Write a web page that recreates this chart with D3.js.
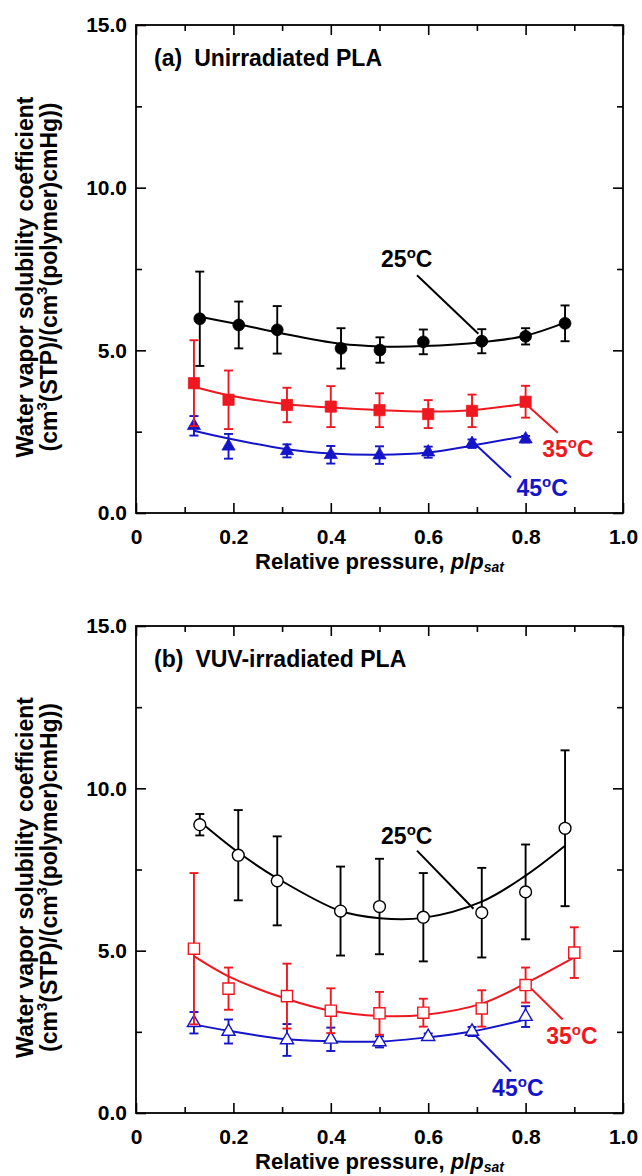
<!DOCTYPE html>
<html>
<head>
<meta charset="utf-8">
<script src="https://cdn.jsdelivr.net/npm/d3@7/dist/d3.min.js"></script>
<style>
  body { margin: 0; background: #fff; }
  svg text { font-family: "Liberation Sans", Arial, sans-serif; font-weight: bold; fill: #000; }
</style>
</head>
<body>
<div id="chart"></div>
<script>
// axis ticks
const xMajor = [0, 0.2, 0.4, 0.6, 0.8, 1.0];
const xMajorLabels = ['0', '0.2', '0.4', '0.6', '0.8', '1.0'];
const xMinor = [0.1, 0.3, 0.5, 0.7, 0.9];
const yMajor = [0, 5, 10, 15];
const yMajorLabels = ['0.0', '5.0', '10.0', '15.0'];
const yMinor = [2.5, 7.5, 12.5];

// (a) unirradiated PLA
const a25x = [0.131, 0.211, 0.29, 0.421, 0.501, 0.59, 0.71, 0.80, 0.881];
const a25y = [5.97, 5.78, 5.63, 5.06, 5.01, 5.26, 5.28, 5.43, 5.83];
const a25err = [1.45, 0.72, 0.73, 0.62, 0.39, 0.38, 0.37, 0.25, 0.55];
const a25fit = [6.03, 5.80, 5.55, 5.20, 5.12, 5.13, 5.25, 5.45, 5.85];

const a35x = [0.119, 0.19, 0.31, 0.40, 0.50, 0.60, 0.69, 0.80];
const a35y = [3.99, 3.48, 3.32, 3.27, 3.16, 3.04, 3.14, 3.42];
const a35err = [1.32, 0.90, 0.53, 0.63, 0.52, 0.43, 0.50, 0.49];
const a35fit = [3.88, 3.62, 3.34, 3.24, 3.16, 3.12, 3.16, 3.36];

const a45x = [0.119, 0.19, 0.31, 0.40, 0.50, 0.60, 0.69, 0.80];
const a45y = [2.68, 2.05, 1.91, 1.79, 1.78, 1.87, 2.13, 2.27];
const a45err = [0.30, 0.38, 0.20, 0.27, 0.27, 0.17, 0.13, 0.10];
const a45fit = [2.53, 2.29, 1.96, 1.83, 1.79, 1.86, 2.07, 2.37];

// (b) VUV-irradiated PLA
const b25x = [0.131, 0.21, 0.29, 0.42, 0.50, 0.59, 0.71, 0.80, 0.881];
const b25y = [8.88, 7.94, 7.15, 6.22, 6.36, 6.03, 6.17, 6.81, 8.77];
const b25err = [0.33, 1.39, 1.37, 1.37, 1.47, 1.36, 1.38, 1.46, 2.40];
const b25fit = [8.98, 8.03, 7.23, 6.22, 6.00, 6.01, 6.51, 7.31, 8.23];

const b35x = [0.119, 0.19, 0.31, 0.40, 0.50, 0.59, 0.71, 0.80, 0.90];
const b35y = [5.06, 3.83, 3.60, 3.15, 3.07, 3.09, 3.22, 3.94, 4.94];
const b35err = [2.33, 0.65, 1.00, 0.69, 0.66, 0.43, 0.56, 0.54, 0.78];
const b35fit = [4.83, 4.21, 3.51, 3.15, 2.99, 3.02, 3.37, 3.99, 4.79];

const b45x = [0.119, 0.19, 0.31, 0.40, 0.50, 0.60, 0.69, 0.80];
const b45y = [2.78, 2.51, 2.25, 2.27, 2.19, 2.35, 2.51, 2.97];
const b45err = [0.33, 0.37, 0.49, 0.36, 0.17, 0.10, 0.14, 0.32];
const b45fit = [2.73, 2.53, 2.27, 2.21, 2.20, 2.33, 2.51, 2.88];

const BLACK = '#000000', RED = '#f01820', BLUE = '#1414c8';

const panels = [
  {
    title: '(a)', name: 'Unirradiated PLA', top: 25, bottom: 513, open: false,
    series: [
      { x: a45x, y: a45y, err: a45err, fit: a45fit, color: BLUE, shape: 'triangle', label: '45',
        lead: [[0.70, 2.07], [0.77, 1.09]], at: [0.834, 0.53] },
      { x: a35x, y: a35y, err: a35err, fit: a35fit, color: RED, shape: 'square', label: '35',
        lead: [[0.80, 3.36], [0.866, 2.47]], at: [0.887, 1.71] },
      { x: a25x, y: a25y, err: a25err, fit: a25fit, color: BLACK, shape: 'circle', label: '25',
        lead: [[0.577, 7.31], [0.703, 5.51]], at: [0.556, 7.55] },
    ],
  },
  {
    title: '(b)', name: 'VUV-irradiated PLA', top: 626, bottom: 1113, open: true,
    series: [
      { x: b45x, y: b45y, err: b45err, fit: b45fit, color: BLUE, shape: 'triangle', label: '45',
        lead: [[0.693, 2.45], [0.77, 1.28]], at: [0.784, 0.51] },
      { x: b35x, y: b35y, err: b35err, fit: b35fit, color: RED, shape: 'square', label: '35',
        lead: [[0.809, 3.87], [0.876, 2.88]], at: [0.895, 2.13] },
      { x: b25x, y: b25y, err: b25err, fit: b25fit, color: BLACK, shape: 'circle', label: '25',
        lead: [[0.577, 8.08], [0.693, 6.29]], at: [0.556, 8.3] },
    ],
  },
];

const width = 642, height = 1176;
const left = 136, right = 623;

const svg = d3.select('#chart').append('svg')
  .attr('width', width)
  .attr('height', height);

const xScale = d3.scaleLinear().domain([0, 1]).range([left, right]);

function drawPanel(p) {
  const yScale = d3.scaleLinear().domain([0, 15]).range([p.bottom, p.top]);
  const g = svg.append('g');

  // axes with inward ticks on all four sides
  const styleAxis = sel => {
    sel.select('.domain').remove();
    sel.selectAll('.tick line').attr('stroke', '#000').attr('stroke-width', 1.6);
    sel.selectAll('.tick text').style('font-size', '21px');
  };
  g.append('g').attr('transform', `translate(0,${p.bottom})`)
    .call(d3.axisBottom(xScale).tickValues(xMajor).tickSize(-10).tickPadding(16)
      .tickFormat((d, i) => xMajorLabels[i]))
    .call(styleAxis);
  g.append('g').attr('transform', `translate(0,${p.bottom})`)
    .call(d3.axisBottom(xScale).tickValues(xMinor).tickSize(-6).tickFormat(''))
    .call(styleAxis);
  g.append('g').attr('transform', `translate(0,${p.top})`)
    .call(d3.axisTop(xScale).tickValues(xMajor).tickSize(-10).tickFormat(''))
    .call(styleAxis);
  g.append('g').attr('transform', `translate(0,${p.top})`)
    .call(d3.axisTop(xScale).tickValues(xMinor).tickSize(-6).tickFormat(''))
    .call(styleAxis);
  g.append('g').attr('transform', `translate(${left},0)`)
    .call(d3.axisLeft(yScale).tickValues(yMajor).tickSize(-10).tickPadding(9)
      .tickFormat((d, i) => yMajorLabels[i]))
    .call(styleAxis);
  g.append('g').attr('transform', `translate(${left},0)`)
    .call(d3.axisLeft(yScale).tickValues(yMinor).tickSize(-6).tickFormat(''))
    .call(styleAxis);
  g.append('g').attr('transform', `translate(${right},0)`)
    .call(d3.axisRight(yScale).tickValues(yMajor).tickSize(-10).tickFormat(''))
    .call(styleAxis);
  g.append('g').attr('transform', `translate(${right},0)`)
    .call(d3.axisRight(yScale).tickValues(yMinor).tickSize(-6).tickFormat(''))
    .call(styleAxis);

  g.append('rect')
    .attr('x', left).attr('y', p.top)
    .attr('width', right - left).attr('height', p.bottom - p.top)
    .attr('fill', 'none').attr('stroke', '#000').attr('stroke-width', 1.8);

  // panel title
  const t = g.append('text')
    .attr('x', 154).attr('y', p.top + 41)
    .style('font-size', '23px');
  t.append('tspan').text(p.title);
  t.append('tspan').attr('dx', 12).text(p.name);

  // y axis title
  const yc = (p.top + p.bottom) / 2 + 8;
  const yt = g.append('g').attr('transform', `translate(33,${yc}) rotate(-90)`);
  yt.append('text').attr('text-anchor', 'middle').style('font-size', '23px')
    .text('Water vapor solubility coefficient');
  const l2 = yt.append('text').attr('text-anchor', 'middle').attr('y', 24).style('font-size', '23px');
  l2.append('tspan').text('(cm');
  l2.append('tspan').attr('dy', -10).style('font-size', '15px').text('3');
  l2.append('tspan').attr('dy', 10).text('(STP)/(cm');
  l2.append('tspan').attr('dy', -10).style('font-size', '15px').text('3');
  l2.append('tspan').attr('dy', 10).text('(polymer)cmHg))');

  // x axis title
  const xt = g.append('text')
    .attr('x', (left + right) / 2).attr('y', p.bottom + 56)
    .attr('text-anchor', 'middle').style('font-size', '22px');
  xt.append('tspan').text('Relative pressure, ');
  xt.append('tspan').style('font-style', 'italic').text('p');
  xt.append('tspan').text('/');
  xt.append('tspan').style('font-style', 'italic').text('p');
  xt.append('tspan').style('font-style', 'italic').style('font-size', '14px').attr('dy', 3).text('sat');

  const line = d3.line()
    .x(d => xScale(d[0]))
    .y(d => yScale(d[1]))
    .curve(d3.curveCatmullRom.alpha(0.5));

  p.series.forEach(s => {
    const pts = s.x.map((x, i) => ({ x, y: s.y[i], e: s.err[i] }));
    const sg = g.append('g');

    // fitted curve
    sg.append('path')
      .datum(s.x.map((x, i) => [x, s.fit[i]]))
      .attr('d', line)
      .attr('fill', 'none').attr('stroke', s.color).attr('stroke-width', 2);

    // leader line
    sg.append('line')
      .attr('x1', xScale(s.lead[0][0])).attr('y1', yScale(s.lead[0][1]))
      .attr('x2', xScale(s.lead[1][0])).attr('y2', yScale(s.lead[1][1]))
      .attr('stroke', s.color).attr('stroke-width', 2);

    // error bars
    const eb = sg.append('g').attr('stroke', s.color).attr('stroke-width', 1.9);
    eb.selectAll('line.v').data(pts).join('line').attr('class', 'v')
      .attr('x1', d => xScale(d.x)).attr('x2', d => xScale(d.x))
      .attr('y1', d => yScale(d.y - d.e)).attr('y2', d => yScale(d.y + d.e));
    eb.selectAll('line.t').data(pts).join('line').attr('class', 't')
      .attr('x1', d => xScale(d.x) - 4.5).attr('x2', d => xScale(d.x) + 4.5)
      .attr('y1', d => yScale(d.y + d.e)).attr('y2', d => yScale(d.y + d.e));
    eb.selectAll('line.b').data(pts).join('line').attr('class', 'b')
      .attr('x1', d => xScale(d.x) - 4.5).attr('x2', d => xScale(d.x) + 4.5)
      .attr('y1', d => yScale(d.y - d.e)).attr('y2', d => yScale(d.y - d.e));

    // markers
    const symType = s.shape === 'circle' ? d3.symbolCircle
      : s.shape === 'square' ? d3.symbolSquare : d3.symbolTriangle;
    const symSize = s.shape === 'circle' ? 110 : s.shape === 'square' ? 125 : 75;
    sg.selectAll('path.m').data(pts).join('path').attr('class', 'm')
      .attr('transform', d => `translate(${xScale(d.x)},${yScale(d.y)})`)
      .attr('d', d3.symbol(symType, symSize))
      .attr('fill', p.open ? '#fff' : s.color)
      .attr('stroke', s.color)
      .attr('stroke-width', p.open ? 1.4 : 0.8);

    // temperature label
    const lt = sg.append('text')
      .attr('x', xScale(s.at[0])).attr('y', yScale(s.at[1]))
      .attr('text-anchor', 'middle')
      .style('font-size', '23px')
      .style('fill', s.color);
    lt.append('tspan').text(s.label);
    lt.append('tspan').attr('dy', -9).style('font-size', '15px').text('o');
    lt.append('tspan').attr('dy', 9).text('C');
  });
}

panels.forEach(drawPanel);
</script>
</body>
</html>
